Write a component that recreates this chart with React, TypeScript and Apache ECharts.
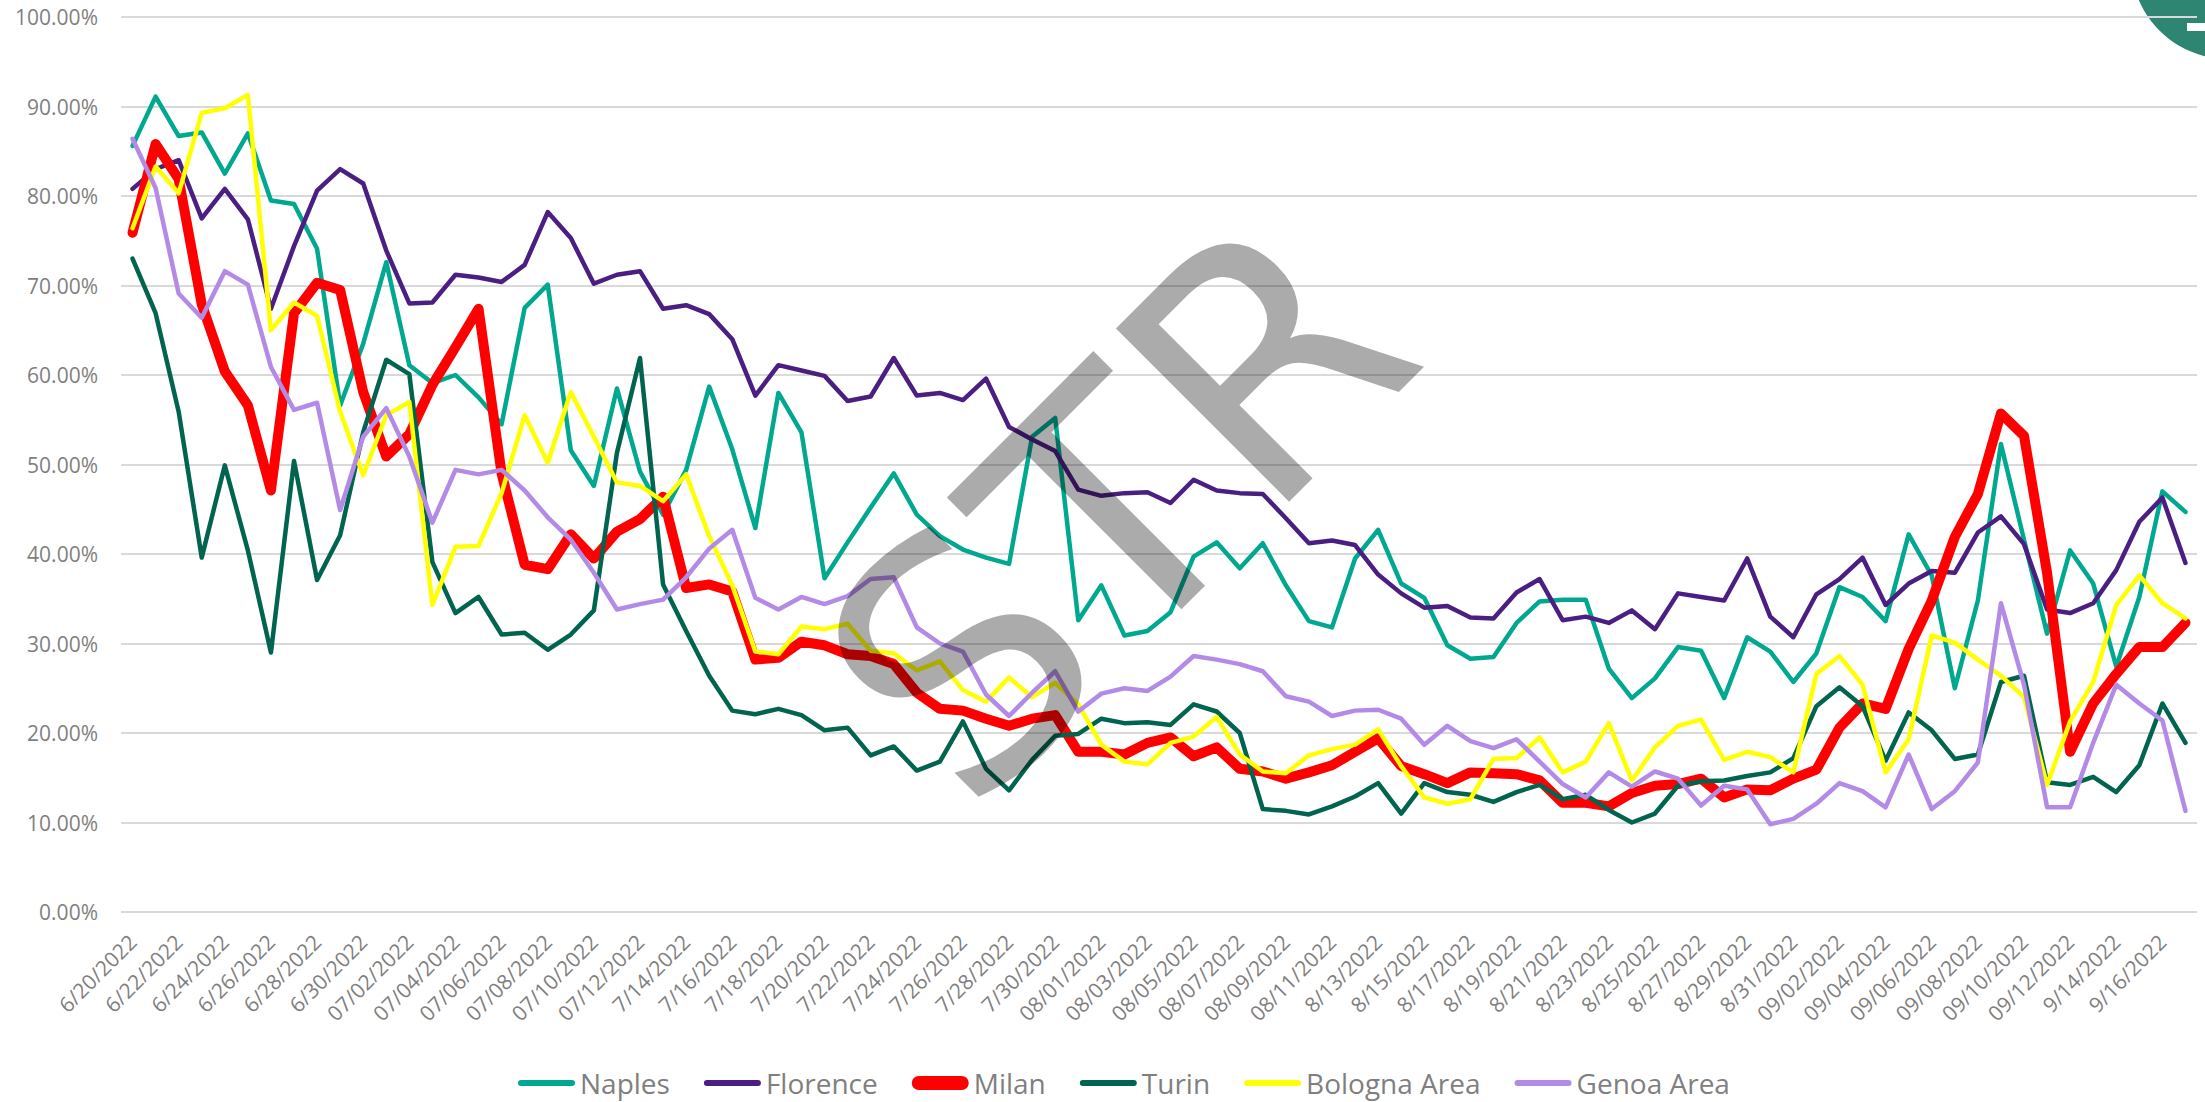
import React, { useEffect, useRef } from "react";
import * as echarts from "echarts";

const categories = [
  "6/20/2022", "6/21/2022", "6/22/2022", "6/23/2022", "6/24/2022", "6/25/2022", "6/26/2022", "6/27/2022", "6/28/2022", "6/29/2022", "6/30/2022",
  "07/01/2022", "07/02/2022", "07/03/2022", "07/04/2022", "07/05/2022", "07/06/2022", "07/07/2022", "07/08/2022", "07/09/2022", "07/10/2022", "07/11/2022", "07/12/2022",
  "7/13/2022", "7/14/2022", "7/15/2022", "7/16/2022", "7/17/2022", "7/18/2022", "7/19/2022", "7/20/2022", "7/21/2022", "7/22/2022", "7/23/2022", "7/24/2022", "7/25/2022", "7/26/2022", "7/27/2022", "7/28/2022", "7/29/2022", "7/30/2022", "7/31/2022",
  "08/01/2022", "08/02/2022", "08/03/2022", "08/04/2022", "08/05/2022", "08/06/2022", "08/07/2022", "08/08/2022", "08/09/2022", "08/10/2022", "08/11/2022", "08/12/2022",
  "8/13/2022", "8/14/2022", "8/15/2022", "8/16/2022", "8/17/2022", "8/18/2022", "8/19/2022", "8/20/2022", "8/21/2022", "8/22/2022", "8/23/2022", "8/24/2022", "8/25/2022", "8/26/2022", "8/27/2022", "8/28/2022", "8/29/2022", "8/30/2022", "8/31/2022",
  "09/01/2022", "09/02/2022", "09/03/2022", "09/04/2022", "09/05/2022", "09/06/2022", "09/07/2022", "09/08/2022", "09/09/2022", "09/10/2022", "09/11/2022", "09/12/2022",
  "9/13/2022", "9/14/2022", "9/15/2022", "9/16/2022", "9/17/2022",
];

const yTicks = [0, 10, 20, 30, 40, 50, 60, 70, 80, 90, 100];

const naples = [
  85.6, 91.1, 86.7, 87.1, 82.5, 87.0, 79.5, 79.1, 74.1, 56.6,
  63.5, 72.6, 61.1, 59.1, 60.0, 57.5, 54.5, 67.5, 70.1, 51.6,
  47.6, 58.5, 49.2, 44.4, 49.4, 58.7, 51.7, 42.9, 58.0, 53.6,
  37.3, 41.3, 45.2, 49.0, 44.4, 42.0, 40.5, 39.6, 38.9, 53.1,
  55.2, 32.6, 36.5, 30.9, 31.4, 33.5, 39.7, 41.3, 38.4, 41.2,
  36.5, 32.5, 31.8, 39.5, 42.7, 36.7, 35.1, 29.8, 28.3, 28.5,
  32.3, 34.7, 34.9, 34.9, 27.2, 23.9, 26.1, 29.6, 29.2, 23.9,
  30.7, 29.1, 25.7, 28.9, 36.3, 35.2, 32.5, 42.2, 37.6, 25.0,
  34.8, 52.3, 41.6, 31.1, 40.4, 36.7, 27.4, 35.2, 47.0, 44.7,
];

const florence = [
  80.8, 83.0, 84.0, 77.5, 80.8, 77.4, 67.4, 74.4, 80.6, 83.0,
  81.4, 73.9, 68.0, 68.1, 71.2, 70.9, 70.4, 72.3, 78.2, 75.3,
  70.2, 71.2, 71.6, 67.4, 67.8, 66.8, 64.0, 57.7, 61.1, 60.5,
  59.9, 57.1, 57.6, 61.9, 57.7, 58.0, 57.2, 59.6, 54.2, 52.8,
  51.5, 47.2, 46.5, 46.8, 46.9, 45.7, 48.3, 47.1, 46.8, 46.7,
  44.0, 41.2, 41.5, 41.0, 37.7, 35.6, 34.0, 34.2, 32.9, 32.8,
  35.7, 37.2, 32.6, 33.0, 32.3, 33.7, 31.6, 35.6, 35.2, 34.8,
  39.5, 33.0, 30.7, 35.5, 37.2, 39.6, 34.3, 36.7, 38.1, 37.9,
  42.4, 44.2, 41.1, 33.8, 33.4, 34.5, 38.2, 43.6, 46.3, 39.0,
];

const milan = [
  75.9, 85.8, 81.9, 67.9, 60.4, 56.6, 47.1, 66.9, 70.3, 69.5,
  58.1, 50.9, 53.4, 58.9, 63.1, 67.4, 49.0, 38.8, 38.3, 42.2,
  39.5, 42.5, 43.9, 46.4, 36.2, 36.6, 35.8, 28.2, 28.4, 30.2,
  29.8, 28.8, 28.6, 27.7, 24.5, 22.7, 22.5, 21.6, 20.8, 21.6,
  22.0, 17.9, 17.9, 17.6, 18.9, 19.5, 17.4, 18.4, 16.0, 15.7,
  14.9, 15.6, 16.4, 17.9, 19.4, 16.3, 15.4, 14.4, 15.6, 15.5,
  15.4, 14.7, 12.2, 12.2, 11.8, 13.3, 14.1, 14.3, 14.9, 12.8,
  13.7, 13.6, 14.9, 15.9, 20.6, 23.3, 22.7, 29.4, 34.8, 41.9,
  46.7, 55.7, 53.2, 37.9, 17.9, 23.3, 26.6, 29.6, 29.6, 32.3,
];

const turin = [
  73.0, 66.9, 55.9, 39.6, 49.9, 40.4, 29.0, 50.4, 37.1, 42.1,
  53.6, 61.7, 60.1, 39.1, 33.4, 35.2, 31.0, 31.2, 29.3, 31.0,
  33.7, 51.3, 61.9, 36.6, 31.4, 26.4, 22.5, 22.1, 22.7, 22.0,
  20.3, 20.6, 17.5, 18.5, 15.8, 16.8, 21.3, 16.0, 13.6, 17.0,
  19.7, 19.9, 21.6, 21.1, 21.2, 20.9, 23.2, 22.4, 20.0, 11.5,
  11.3, 10.9, 11.8, 12.9, 14.4, 11.0, 14.4, 13.4, 13.1, 12.3,
  13.4, 14.2, 12.6, 13.1, 11.4, 10.0, 11.0, 14.1, 14.6, 14.7,
  15.2, 15.6, 17.2, 23.0, 25.1, 23.0, 16.9, 22.3, 20.3, 17.1,
  17.6, 25.7, 26.4, 14.5, 14.2, 15.1, 13.4, 16.4, 23.3, 18.9,
];

const bologna = [
  76.4, 83.3, 80.3, 89.3, 89.8, 91.3, 65.0, 68.1, 66.6, 55.9,
  48.8, 55.5, 57.0, 34.3, 40.8, 40.9, 46.8, 55.5, 50.2, 58.1,
  53.1, 48.0, 47.6, 45.9, 48.9, 42.0, 36.5, 29.1, 28.8, 31.9,
  31.6, 32.2, 29.2, 28.9, 27.0, 28.0, 24.8, 23.5, 26.2, 24.0,
  25.6, 23.2, 18.7, 16.8, 16.5, 18.9, 19.6, 21.8, 17.6, 15.7,
  15.5, 17.5, 18.2, 18.7, 20.4, 16.3, 12.8, 12.1, 12.6, 17.1,
  17.2, 19.5, 15.6, 16.8, 21.1, 14.7, 18.4, 20.8, 21.5, 17.0,
  17.9, 17.3, 15.6, 26.6, 28.6, 25.4, 15.6, 19.3, 30.9, 30.1,
  28.2, 26.4, 24.0, 14.2, 21.3, 25.7, 34.3, 37.6, 34.5, 32.8,
];

const genoa = [
  86.4, 80.9, 69.1, 66.4, 71.6, 70.1, 60.9, 56.1, 56.9, 44.9,
  53.1, 56.3, 50.9, 43.5, 49.4, 48.9, 49.4, 47.1, 44.1, 41.6,
  37.9, 33.8, 34.4, 34.9, 37.4, 40.6, 42.7, 35.1, 33.8, 35.2,
  34.4, 35.3, 37.2, 37.4, 31.8, 30.0, 29.1, 24.3, 21.9, 24.5,
  26.9, 22.4, 24.4, 25.0, 24.7, 26.3, 28.6, 28.2, 27.7, 26.9,
  24.1, 23.5, 21.9, 22.5, 22.6, 21.6, 18.7, 20.8, 19.1, 18.3,
  19.3, 16.8, 14.3, 12.8, 15.6, 14.0, 15.7, 14.9, 11.9, 14.1,
  13.7, 9.8, 10.4, 12.1, 14.4, 13.5, 11.7, 17.6, 11.5, 13.5,
  16.7, 34.5, 25.4, 11.7, 11.7, 18.9, 25.4, 23.3, 21.4, 11.3,
];

const seriesNames = ["Naples", "Florence", "Milan", "Turin", "Bologna Area", "Genoa Area"];
const seriesColors = ["#00A88F", "#4B1E82", "#FF0000", "#00644F", "#FFFF00", "#B38BE6"];
const seriesWidths = [4.5, 4.5, 10, 4.5, 4.5, 4.5];
const seriesData = [naples, florence, milan, turin, bologna, genoa];

const GRAY = "#7F7F7F";
const FONT = "'Open Sans', 'DejaVu Sans', sans-serif";

const THIN_ICON = "path://M3,0 H54 A3,3 0 0 1 54,6 H3 A3,3 0 0 1 3,0 Z";
const THICK_ICON = "path://M7,0 H50 A7,7 0 0 1 50,14 H7 A7,7 0 0 1 7,0 Z";

export default function App() {
  const ref = useRef<HTMLDivElement>(null);

  useEffect(() => {
    if (!ref.current) return;
    const chart = echarts.init(ref.current, null, { renderer: "svg" });
    chart.setOption({
      animation: false,
      backgroundColor: "#FFFFFF",
      grid: { left: 121, right: 8, top: 17, bottom: 190, containLabel: false },
      xAxis: {
        type: "category",
        data: categories,
        boundaryGap: true,
        axisLine: { show: false },
        axisTick: { show: false },
        splitLine: { show: false },
        axisLabel: {
          interval: 1,
          rotate: 45,
          margin: 26,
          color: GRAY,
          fontSize: 21,
          fontFamily: FONT,
        },
      },
      yAxis: {
        type: "value",
        min: yTicks[0],
        max: yTicks[yTicks.length - 1],
        interval: 10,
        axisLine: { show: false },
        axisTick: { show: false },
        splitLine: { lineStyle: { color: "#D9D9D9", width: 2 } },
        axisLabel: {
          margin: 23,
          color: GRAY,
          fontSize: 21,
          fontFamily: FONT,
          formatter: (v: number) => v.toFixed(2) + "%",
        },
      },
      legend: {
        data: seriesNames.map((name, i) => ({
          name,
          icon: seriesWidths[i] > 6 ? THICK_ICON : THIN_ICON,
        })),
        left: 518,
        top: 1069,
        padding: 0,
        itemGap: 34,
        itemWidth: 57,
        itemHeight: 14,
        itemStyle: { borderWidth: 0 },
        textStyle: { color: GRAY, fontSize: 28, lineHeight: 28, fontFamily: FONT },
      },
      graphic: [
        {
          type: "circle",
          z: -1,
          shape: { cx: 2228, cy: -38, r: 97 },
          style: { fill: "#2E8572" },
        },
        {
          type: "rect",
          z: -1,
          shape: { x: 2187, y: 23, width: 18, height: 8 },
          style: { fill: "#FFFFFF" },
        },
        {
          type: "text",
          z: 100,
          x: 1118,
          y: 508,
          rotation: Math.PI / 4,
          silent: true,
          style: {
            text: "STR",
            fontSize: 336,
            fontFamily: "'DejaVu Sans', sans-serif",
            fill: "rgba(0,0,0,0.33)",
            textAlign: "center",
            textVerticalAlign: "middle",
          },
        },
      ],
      series: seriesNames.map((name, i) => ({
        name,
        type: "line",
        data: seriesData[i],
        symbol: "none",
        silent: true,
        lineStyle: { width: seriesWidths[i], color: seriesColors[i], cap: "round", join: "round" },
        itemStyle: { color: seriesColors[i] },
      })),
    });
    return () => chart.dispose();
  }, []);

  return (
    <div
      ref={ref}
      style={{ position: "absolute", left: 0, top: 0, width: 2205, height: 1102 }}
    />
  );
}
